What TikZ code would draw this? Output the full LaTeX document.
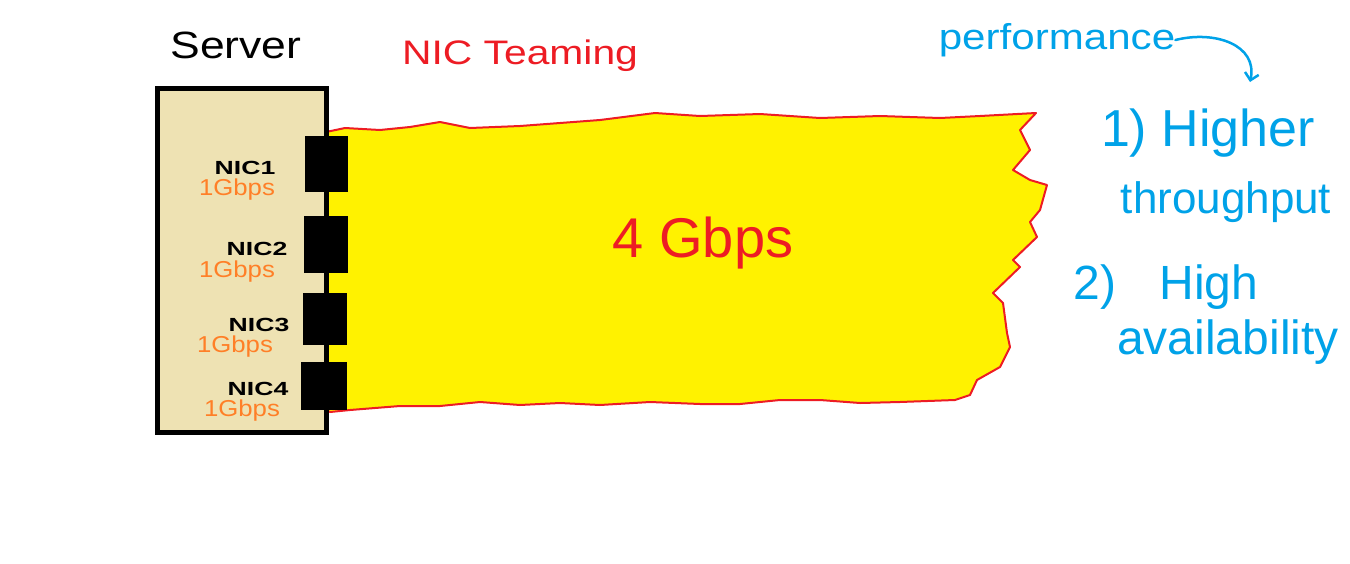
\documentclass[tikz,border=0pt]{standalone}
\usepackage{fontspec}
\setmainfont{Liberation Sans}
\usetikzlibrary{arrows.meta}
\definecolor{wheatbox}{RGB}{238,226,179}
\definecolor{pyellow}{RGB}{255,242,0}
\definecolor{pred}{RGB}{237,28,36}
\definecolor{pblue}{RGB}{0,162,232}
\definecolor{porange}{RGB}{255,127,39}
\newcommand{\wide}[2]{\scalebox{#1}[1]{#2}}
\tikzset{
  niclbl/.style={font=\fontsize{19}{20}\selectfont\bfseries, text=black, inner sep=0pt},
  speedlbl/.style={font=\fontsize{23}{24}\selectfont, text=porange, inner sep=0pt},
  nicport/.style={fill=black, draw=none, inner sep=0pt},
  bluetxt/.style={text=pblue, inner sep=0pt},
}
\begin{document}
\begin{tikzpicture}[x=1pt,y=-1pt]
\useasboundingbox (0,0) rectangle (1350,563);
% yellow teaming region
\fill[pyellow, draw=pred, line width=2pt, line join=round]
 (326,132) -- (345,128) -- (380,130) -- (410,127) -- (440,122) -- (470,128) -- (520,126) -- (560,123) -- (600,120) -- (655,113) -- (700,116) -- (760,114) -- (820,118) -- (880,116) -- (940,118) -- (980,116) -- (1036,113)
 -- (1020,130) -- (1030,150) -- (1013,170) -- (1030,180) -- (1047,185) -- (1040,210) -- (1030,222) -- (1037,237) -- (1013,260) -- (1020,267) -- (993,293) -- (1003,303) -- (1007,333) -- (1010,347) -- (1000,367) -- (977,380) -- (970,395) -- (955,400)
 -- (900,402) -- (860,403) -- (820,400) -- (780,400) -- (740,404) -- (700,404) -- (650,402) -- (600,405) -- (560,403) -- (520,405) -- (480,402) -- (440,406) -- (400,406) -- (350,410) -- (330,412) -- (326,410) -- cycle;
% server box
\node[draw=black, fill=wheatbox, line width=5pt, minimum width=169pt, minimum height=344pt, inner sep=0pt] (server) at (241.5,260) {};
% NIC ports
\node[nicport, minimum width=43pt, minimum height=56pt] (p1) at (326.5,164) {};
\node[nicport, minimum width=44pt, minimum height=57pt] (p2) at (326,244.5) {};
\node[nicport, minimum width=44pt, minimum height=52pt] (p3) at (325,319) {};
\node[nicport, minimum width=46pt, minimum height=48pt] (p4) at (324,386) {};
% labels
\node (servertitle) at (236,45) {\fontsize{38}{40}\selectfont\wide{1.17}{Server}};
\node[text=pred] (teaming) at (520,56) {\fontsize{34}{36}\selectfont\wide{1.2}{NIC Teaming}};
\node[text=pred] (speed) at (703,243) {\fontsize{56}{60}\selectfont 4 Gbps};
\node[niclbl] (n1) at (245,168) {\wide{1.4}{NIC1}};
\node[speedlbl] (s1) at (237,190) {\wide{1.12}{1Gbps}};
\node[niclbl] (n2) at (257,249) {\wide{1.4}{NIC2}};
\node[speedlbl] (s2) at (237,272) {\wide{1.12}{1Gbps}};
\node[niclbl] (n3) at (259,325) {\wide{1.4}{NIC3}};
\node[speedlbl] (s3) at (235,347) {\wide{1.12}{1Gbps}};
\node[niclbl] (n4) at (258,389) {\wide{1.4}{NIC4}};
\node[speedlbl] (s4) at (242,411) {\wide{1.12}{1Gbps}};
% right side
\node[bluetxt] (perf) at (1057,40) {\fontsize{36}{38}\selectfont\wide{1.17}{performance}};
\node[bluetxt] (b1) at (1208,133) {\fontsize{52}{54}\selectfont 1) Higher};
\node[bluetxt] (b1b) at (1226,202) {\fontsize{44}{46}\selectfont throughput};
\node[bluetxt] (b2) at (1166,287) {\fontsize{48}{50}\selectfont 2)\hspace{0.9em}High};
\node[bluetxt] (b2b) at (1228,342) {\fontsize{48}{50}\selectfont availability};
\coordinate (arrend) at (1250,82);
\draw[pblue, line width=2.5pt, line cap=round, -{Straight Barb[length=7pt,width=14pt]}]
  (perf.east) .. controls (1215,30) and (1258,45) .. (arrend);
\end{tikzpicture}
\end{document}
